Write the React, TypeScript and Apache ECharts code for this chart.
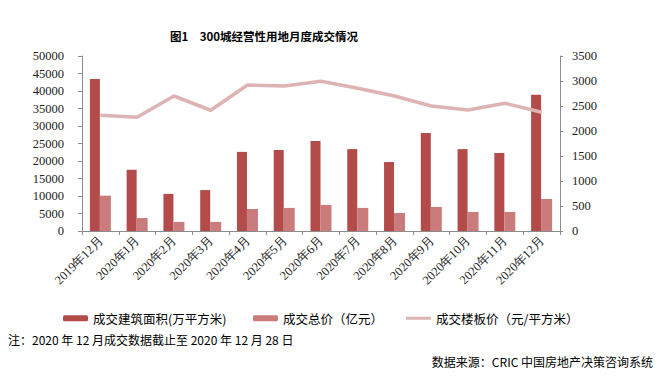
import React, { useEffect, useRef } from "react";
import * as echarts from "echarts";

const categories = [
  "2019年12月", "2020年1月", "2020年2月", "2020年3月", "2020年4月", "2020年5月",
  "2020年6月", "2020年7月", "2020年8月", "2020年9月", "2020年10月", "2020年11月", "2020年12月",
];
const areaValues = [43400, 17500, 10600, 11700, 22600, 23150, 25700, 23400, 19700, 28000, 23400, 22300, 38900];
const totalValues = [10100, 3700, 2600, 2600, 6300, 6600, 7450, 6600, 5150, 6850, 5450, 5450, 9150];
const priceValues = [2315, 2275, 2700, 2415, 2920, 2900, 2995, 2855, 2700, 2500, 2420, 2555, 2375];

const seriesNames = ["成交建筑面积(万平方米)", "成交总价（亿元）", "成交楼板价（元/平方米）"];
const titleText = "图1　300城经营性用地月度成交情况";
const noteText = "注：2020 年 12 月成交数据截止至 2020 年 12 月 28 日";
const sourceText = "数据来源：CRIC 中国房地产决策咨询系统";

const DARK = "#b34b4a";
const LIGHT = "#ca7c7c";
const LINE = "#ddb3b3";
const AXIS = "#8c8c8c";
const SERIF = "Times New Roman";
const CJK = "Noto Sans CJK SC, sans-serif";

export default function App() {
  const ref = useRef<HTMLDivElement>(null);
  useEffect(() => {
    if (!ref.current) return;
    const chart = echarts.init(ref.current, null, { renderer: "svg" });
    const legendText = { fontFamily: CJK, fontSize: 12.5, color: "#000" };
    const plain = (v: number) => String(v);
    const tickText = { fontFamily: SERIF, fontSize: 12.5, color: "#222" };
    chart.setOption({
      animation: false,
      backgroundColor: "#fff",
      textStyle: { fontFamily: SERIF },
      title: {
        text: titleText,
        left: 259,
        top: 25,
        textAlign: "center",
        textStyle: { fontFamily: CJK, fontSize: 11.5, fontWeight: "bold", color: "#000" },
      },
      grid: { left: 82, right: 101, top: 56, bottom: 148, containLabel: false },
      legend: [
        {
          data: [seriesNames[0]], left: 58, top: 307, itemWidth: 25, itemHeight: 6,
          textStyle: legendText, itemGap: 4,
        },
        {
          data: [seriesNames[1]], left: 248, top: 307, itemWidth: 25, itemHeight: 6,
          textStyle: legendText,
        },
        {
          data: [{ name: seriesNames[2], icon: "rect" }], left: 401, top: 307, itemWidth: 25, itemHeight: 3,
          textStyle: legendText,
        },
      ],
      xAxis: {
        type: "category",
        data: categories,
        boundaryGap: true,
        axisLine: { lineStyle: { color: AXIS, width: 1 } },
        axisTick: { show: true, length: 4, lineStyle: { color: AXIS } },
        axisLabel: { rotate: 45, interval: 0, margin: 8, ...tickText },
      },
      yAxis: [
        {
          type: "value", min: 0, max: 50000, interval: 5000,
          axisLine: { show: true, lineStyle: { color: AXIS } },
          axisTick: { show: true, length: 4, lineStyle: { color: AXIS } },
          splitLine: { show: false },
          axisLabel: { margin: 18, formatter: plain, ...tickText },
        },
        {
          type: "value", min: 0, max: 3500, interval: 500,
          axisLine: { show: true, lineStyle: { color: AXIS } },
          axisTick: { show: true, length: 3, lineStyle: { color: AXIS } },
          splitLine: { show: false },
          axisLabel: { margin: 12, formatter: plain, ...tickText },
        },
      ],
      series: [
        {
          name: seriesNames[0], type: "bar", data: areaValues, barWidth: 10, barGap: "0%",
          itemStyle: { color: DARK },
        },
        {
          name: seriesNames[1], type: "bar", data: totalValues, barWidth: 11, barGap: "0%",
          itemStyle: { color: LIGHT },
        },
        {
          name: seriesNames[2], type: "line", yAxisIndex: 1, data: priceValues,
          symbol: "none", showSymbol: false,
          lineStyle: { color: LINE, width: 3.5 }, itemStyle: { color: LINE },
        },
      ],
      graphic: [
        {
          type: "text", left: 8, top: 333,
          style: { text: noteText, fontFamily: CJK, fontSize: 12, fill: "#000" },
        },
        {
          type: "text", right: 8, top: 355,
          style: { text: sourceText, fontFamily: CJK, fontSize: 12, fill: "#000" },
        },
      ],
    });
    return () => chart.dispose();
  }, []);
  return (
    <div
      ref={ref}
      style={{ position: "fixed", left: 0, top: 0, width: 661, height: 379, background: "#fff" }}
    />
  );
}
